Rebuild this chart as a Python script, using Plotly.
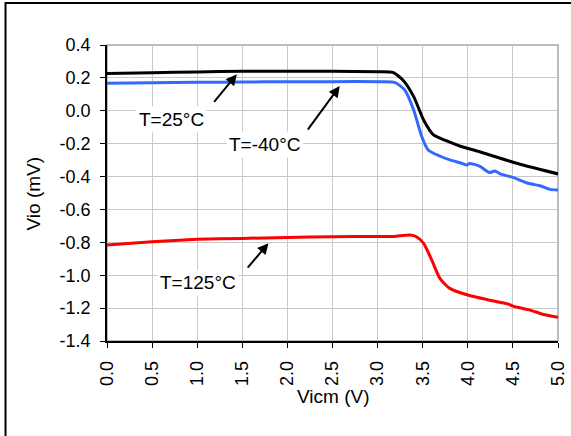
import plotly.graph_objects as go

# Vicm (V) and Vio (mV) for each temperature
x_25 = [0.0, 0.5, 1.0, 1.5, 2.0, 2.5, 3.0, 3.17, 3.28, 3.40, 3.51, 3.62, 3.76, 3.91, 4.13, 4.36, 4.61, 5.0]
y_25 = [0.227, 0.232, 0.236, 0.240, 0.240, 0.240, 0.238, 0.234, 0.187, 0.086, -0.056, -0.147, -0.182, -0.214, -0.249, -0.289, -0.330, -0.384]

x_m40 = [0.0, 0.5, 1.0, 1.5, 2.0, 2.5, 3.03, 3.19, 3.30, 3.40, 3.49, 3.56, 3.69, 3.80, 3.93, 3.99, 4.02, 4.13,
         4.24, 4.30, 4.36, 4.50, 4.67, 4.80, 4.91, 5.0]
y_m40 = [0.167, 0.170, 0.173, 0.175, 0.177, 0.177, 0.177, 0.173, 0.127, 0.005, -0.158, -0.238, -0.275, -0.299, -0.319, -0.330, -0.320, -0.336,
         -0.376, -0.366, -0.384, -0.405, -0.441, -0.456, -0.478, -0.482]

x_125 = [0.0, 0.5, 1.0, 1.5, 2.0, 2.5, 3.0, 3.18, 3.36, 3.43, 3.51, 3.60, 3.69, 3.80, 4.0, 4.32, 4.45, 4.5, 4.69, 4.83, 5.0]
y_125 = [-0.816, -0.796, -0.782, -0.776, -0.770, -0.766, -0.764, -0.764, -0.755, -0.766, -0.806, -0.907, -1.019, -1.080, -1.120, -1.161, -1.176, -1.188, -1.212, -1.237, -1.255]

x_ticks = [0.0, 0.5, 1.0, 1.5, 2.0, 2.5, 3.0, 3.5, 4.0, 4.5, 5.0]
y_ticks = [0.4, 0.2, 0.0, -0.2, -0.4, -0.6, -0.8, -1.0, -1.2, -1.4]

FONT = "Arial, Liberation Sans, sans-serif"

fig = go.Figure()
fig.add_trace(go.Scatter(x=x_125, y=y_125, mode="lines", name="T=125°C",
                         line=dict(color="#ff0000", width=3, shape="spline", smoothing=0.6)))
fig.add_trace(go.Scatter(x=x_m40, y=y_m40, mode="lines", name="T=-40°C",
                         line=dict(color="#3369ff", width=3, shape="spline", smoothing=0.6)))
fig.add_trace(go.Scatter(x=x_25, y=y_25, mode="lines", name="T=25°C",
                         line=dict(color="#000000", width=3, shape="spline", smoothing=0.6)))

# arrows
arrows = [
    (1.44, 0.222, -24, 29),
    (2.58, 0.150, -33, 45),
    (1.79, -0.805, -22, 26),
]
for hx, hy, ax, ay in arrows:
    fig.add_annotation(x=hx, y=hy, xref="x", yref="y", text="", showarrow=True,
                       arrowhead=2, arrowsize=1.1, arrowwidth=2, arrowcolor="black",
                       ax=ax, ay=ay)

labels = [
    ("T=25°C", 0.72, -0.056),
    ("T=-40°C", 1.75, -0.208),
    ("T=125°C", 1.01, -1.042),
]
for txt, lx, ly in labels:
    fig.add_annotation(x=lx, y=ly, xref="x", yref="y", text=txt, showarrow=False,
                       bgcolor="white", font=dict(family=FONT, size=19, color="black"),
                       borderpad=2)

# axis titles
fig.add_annotation(x=0.5, y=-0.189, xref="paper", yref="paper", text="Vicm (V)",
                   showarrow=False, font=dict(family=FONT, size=19, color="black"),
                   xanchor="center", yanchor="middle")
fig.add_annotation(x=-0.163, y=0.5, xref="paper", yref="paper", text="Vio (mV)",
                   textangle=-90, showarrow=False, font=dict(family=FONT, size=19, color="black"),
                   xanchor="center", yanchor="middle")

# plot area frame (gray) and outer chart border (black)
fig.add_shape(type="rect", xref="paper", yref="paper", x0=0, y0=0, x1=1, y1=1,
              line=dict(color="#a6a6a6", width=1.5), layer="below")
fig.add_shape(type="rect", xref="paper", yref="paper", x0=-0.225, y0=-0.36, x1=1.06, y1=1.142,
              line=dict(color="black", width=2))

fig.update_layout(
    width=571, height=436,
    margin=dict(l=106.7, r=12.7, t=45, b=95),
    paper_bgcolor="white", plot_bgcolor="white",
    showlegend=False,
    font=dict(family=FONT, size=18, color="black"),
)
fig.update_xaxes(range=[0, 5], tickvals=x_ticks, ticktext=[f"{v:.1f}" for v in x_ticks],
                 tickangle=-90, showgrid=True, gridcolor="#c8c8c8", gridwidth=1,
                 showline=True, linecolor="black", linewidth=1.5,
                 ticks="outside", ticklen=5, tickcolor="black", zeroline=False,
                 ticklabelstandoff=6, automargin=False)
fig.update_yaxes(range=[-1.4, 0.4], tickvals=y_ticks, ticktext=[f"{v:.1f}" for v in y_ticks],
                 showgrid=True, gridcolor="#c8c8c8", gridwidth=1,
                 showline=True, linecolor="black", linewidth=1.5,
                 ticks="outside", ticklen=5, tickcolor="black", zeroline=False,
                 ticklabelstandoff=6, automargin=False)

fig.write_html("out.html")
